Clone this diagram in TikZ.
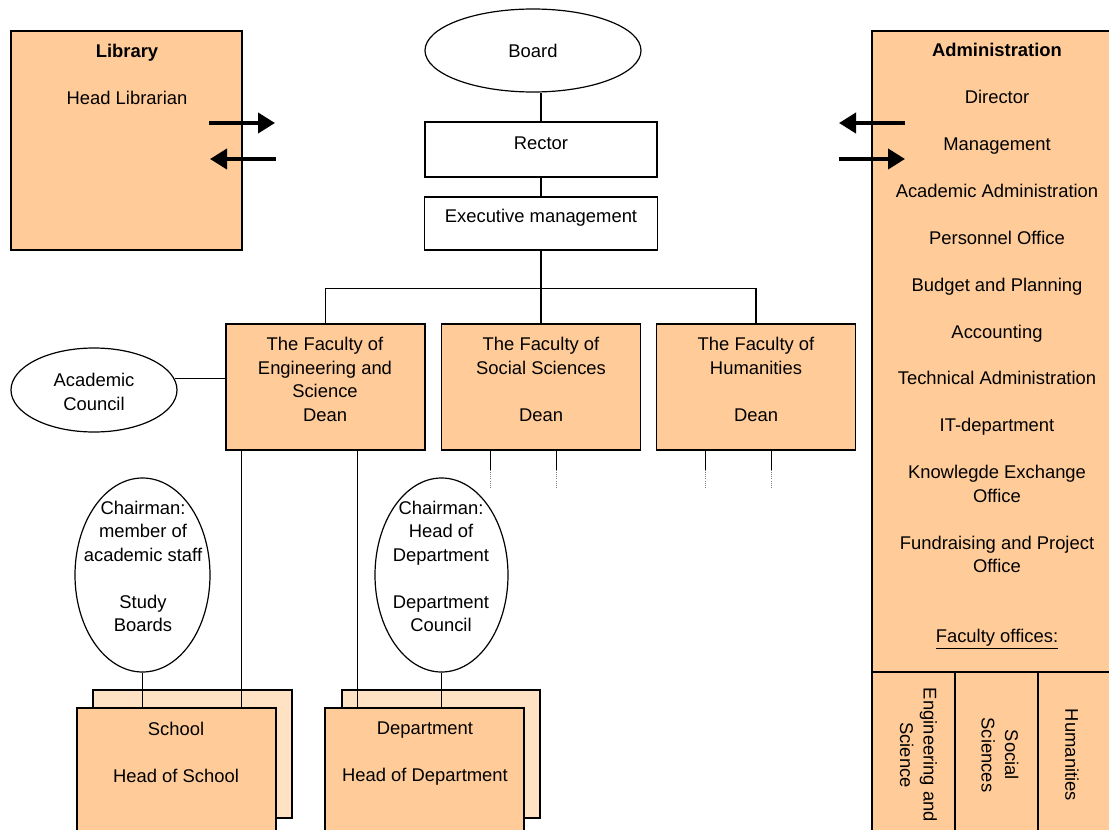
\documentclass[tikz,border=0pt]{standalone}
\usepackage{fontspec}
\setmainfont{Liberation Sans}
\usetikzlibrary{arrows.meta,shapes.geometric}
\definecolor{peach}{HTML}{FFCC99}
\definecolor{lightpeach}{HTML}{FFE1C4}
\newcommand\chartfont{\fontsize{18.4}{23.45}\selectfont}

\begin{document}
\begin{tikzpicture}[x=1pt,y=-1pt,
  box/.style={draw, line width=1.2pt, fill=peach, rectangle, inner sep=0pt},
  backbox/.style={draw, line width=1.2pt, fill=lightpeach, rectangle, inner sep=0pt},
  plainbox/.style={draw, line width=1.2pt, fill=white, rectangle, inner sep=0pt},
  oval/.style={draw, line width=1.2pt, fill=white, ellipse, inner sep=0pt},
  txt/.style={font=\chartfont, align=center, inner sep=0pt},
  link/.style={line width=1.1pt},
  flow/.style={line width=4pt, -{Triangle[length=17pt,width=20pt]}},
  stub/.style={line width=1pt},
  dots/.style={line width=1pt, gray, dash pattern=on 1pt off 1.2pt}
]
\useasboundingbox (0,0) rectangle (1109,830);
\begin{scope}
\clip (0,0) rectangle (1109,830);

% ---- Library ----
\node[box, minimum width=231pt, minimum height=219pt] (lib) at (126.5,140.5) {};
\node[txt] (libtxt) at (127,74) {\textbf{Library}\\[23.45pt]Head Librarian};

% ---- Administration column ----
\node[box, minimum width=249pt, minimum height=839pt] (admin) at (996.5,450.5) {};
\node[box, minimum width=83pt, minimum height=198pt] (fo1) at (913.5,771) {};
\node[box, minimum width=83pt, minimum height=198pt] (fo2) at (996.5,771) {};
\node[box, minimum width=83pt, minimum height=198pt] (fo3) at (1079.5,771) {};
\node[txt] (admintxt) at (997,346) {\textbf{Administration}\\[23.45pt]Director\\[23.45pt]Management\\[23.45pt]Academic Administration\\[23.45pt]Personnel Office\\[23.45pt]Budget and Planning\\[23.45pt]Accounting\\[23.45pt]Technical Administration\\[23.45pt]IT-department\\[23.45pt]Knowlegde Exchange\\Office\\[23.45pt]Fundraising and Project\\Office\\[46.9pt]\underline{Faculty offices:}};
\node[txt, rotate=-90] (fo1txt) at (918.5,755) {Engineering and\\Science};
\node[txt, rotate=-90] (fo2txt) at (1000,755) {Social\\Sciences};
\node[txt, rotate=-90] (fo3txt) at (1072,755) {Humanities};

% ---- top management ----
\node[oval, minimum width=216pt, minimum height=83pt] (board) at (533,50.5) {};
\node[txt] (boardtxt) at (533,50.5) {Board};
\node[plainbox, minimum width=232pt, minimum height=55pt] (rector) at (541,149.5) {};
\node[txt] (rectortxt) at (541,143) {Rector};
\node[plainbox, minimum width=233pt, minimum height=53pt] (exec) at (541,223.5) {};
\node[txt] (exectxt) at (541,217.5) {Executive management};

% ---- faculties ----
\node[box, minimum width=199pt, minimum height=126pt] (eng) at (325.5,387) {};
\node[txt] (engtxt) at (325,379.5) {The Faculty of\\Engineering and\\Science\\Dean};
\node[box, minimum width=199pt, minimum height=126pt] (soc) at (541,387) {};
\node[txt] (soctxt) at (541,379.5) {The Faculty of\\Social Sciences\\[23.45pt]Dean};
\node[box, minimum width=199pt, minimum height=126pt] (hum) at (756,387) {};
\node[txt] (humtxt) at (756,379.5) {The Faculty of\\Humanities\\[23.45pt]Dean};

\node[oval, minimum width=166pt, minimum height=84pt] (ac) at (94,390) {};
\node[txt] (actxt) at (94,392) {Academic\\Council};

% ---- councils ----
\node[oval, minimum width=135pt, minimum height=194pt] (sb) at (142.5,575) {};
\node[txt] (sbtxt) at (143,566.5) {Chairman:\\member of\\academic staff\\[23.45pt]Study\\Boards};
\node[oval, minimum width=133pt, minimum height=194pt] (dc) at (441.5,575) {};
\node[txt] (dctxt) at (441,566.5) {Chairman:\\Head of\\Department\\[23.45pt]Department\\Council};

% ---- schools and departments ----
\node[backbox, minimum width=199pt, minimum height=128pt] (schoolback) at (192.5,754) {};
\node[backbox, minimum width=198pt, minimum height=128pt] (deptback) at (441,754) {};

% ---- connectors ----
\draw[link] (rector.north) -- (rector.north |- board.south);
\draw[link] (rector.south) -- (exec.north);
\draw[link] (exec.south) -- ++(0,38) coordinate (junction);
\draw[link] (eng.north) |- (junction) -| (hum.north);
\draw[link] (junction) -- (junction |- soc.north);
\draw[link] (ac.8) -- (ac.8 -| eng.west);
\draw[link] ([xshift=16pt]eng.south west) -- ++(0,258) coordinate (schooltop);
\draw[link] ([xshift=132pt]eng.south west) -- ++(0,258) coordinate (depttop);
\draw[link] (sb.south) -- (sb.south |- schooltop);
\draw[link] (dc.south) -- (dc.south |- depttop);

\node[box, minimum width=199pt, minimum height=162pt] (school) at (176.5,789) {};
\node[txt] (schooltxt) at (176,752) {School\\[23.45pt]Head of School};
\node[box, minimum width=199pt, minimum height=162pt] (dept) at (424.5,789) {};
\node[txt] (depttxt) at (425,754) {Department\\[23.45pt]Head of Department};

% ---- stubs below faculties ----
\foreach \f in {soc,hum}{
  \foreach \dx in {50,116}{
    \draw[stub] ([xshift=\dx pt]\f.south west) -- ++(0,19) coordinate (s);
    \draw[dots] (s) -- ++(0,18);
  }
}

% ---- exchange arrows ----
\coordinate (la1) at (209,123); \coordinate (la2) at (275,123);
\coordinate (lb1) at (276,159); \coordinate (lb2) at (210,159);
\coordinate (ra1) at (905,123); \coordinate (ra2) at (839,123);
\coordinate (rb1) at (839,159); \coordinate (rb2) at (905,159);
\draw[flow] (la1) -- (la2);
\draw[flow] (lb1) -- (lb2);
\draw[flow] (ra1) -- (ra2);
\draw[flow] (rb1) -- (rb2);
\end{scope}
\end{tikzpicture}
\end{document}
